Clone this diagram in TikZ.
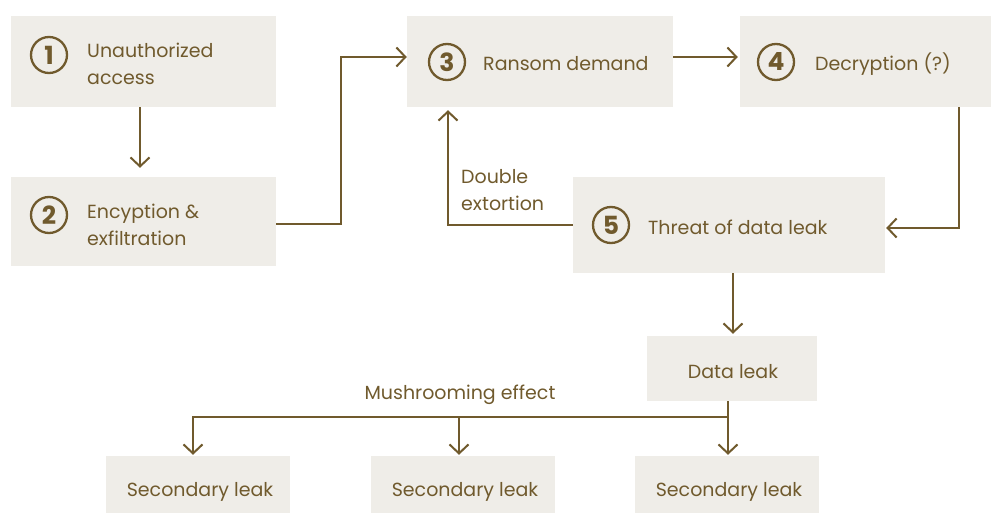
\documentclass[tikz,border=0pt]{standalone}
\usepackage{fontspec}
\setmainfont{Poppins}
\usetikzlibrary{arrows.meta,calc}
\definecolor{brn}{RGB}{112,90,45}
\definecolor{boxfill}{RGB}{239,237,232}
\tikzset{
  box/.style={fill=boxfill, draw=none, inner sep=0pt},
  num/.style={circle, draw=brn, line width=2.3pt, minimum size=36pt, inner sep=0pt, text=brn, font=\fontsize{25}{25}\selectfont\bfseries},
  lbl/.style={text=brn, font=\fontsize{19}{26.5}\selectfont, align=left, anchor=west, inner sep=0pt},
  clbl/.style={text=brn, font=\fontsize{19}{26.5}\selectfont, align=center, inner sep=0pt},
  conn/.style={draw=brn, line width=2pt},
  arr/.style={conn, -{Straight Barb[length=9pt,width=19pt,line width=2pt]}}
}
\begin{document}
\begin{tikzpicture}[x=1pt,y=-1pt]
\useasboundingbox (0,0) rectangle (991,513);
% boxes
\node[box, minimum width=265pt, minimum height=91pt] (b1) at (143.5,61.5) {};
\node[box, minimum width=265pt, minimum height=89pt] (b2) at (143.5,221.5) {};
\node[box, minimum width=266pt, minimum height=91pt] (b3) at (540,61.5) {};
\node[box, minimum width=266pt, minimum height=91pt] (b4) at (873,61.5) {};
\node[box, minimum width=312pt, minimum height=96pt] (b5) at (729,225) {};
\node[box, minimum width=170pt, minimum height=65pt] (dl) at (732,368.5) {};
\node[box, minimum width=184pt, minimum height=64pt] (sa) at (198,488) {};
\node[box, minimum width=184pt, minimum height=64pt] (sb) at (463,488) {};
\node[box, minimum width=184pt, minimum height=64pt] (sc) at (727,488) {};
% numbers
\node[num] (n1) at (49,55) {1};
\node[num] (n2) at (49,215) {2};
\node[num] (n3) at (447,62) {3};
\node[num] (n4) at (776,62) {4};
\node[num] (n5) at (611,225) {5};
% texts
\node[lbl] (t1) at (87,64) {Unauthorized\\access};
\node[lbl] (t2) at (87,225) {Encyption \&\\exfiltration};
\node[lbl] (t3) at (483,64) {Ransom demand};
\node[lbl] (t4) at (815,64) {Decryption (?)};
\node[lbl] (t5) at (648,227) {Threat of data leak};
\node[clbl] (tdl) at (733,372) {Data leak};
\node[clbl] (tsa) at (200,492) {Secondary leak};
\node[clbl] (tsb) at (465,492) {Secondary leak};
\node[clbl] (tsc) at (729,492) {Secondary leak};
\node[lbl] (tde) at (461,190) {Double\\extortion};
\node[clbl] (tme) at (460,395) {Mushrooming effect};
% connectors
\draw[arr, shorten >=9pt] ([xshift=-3.5pt]b1.south) -- ([xshift=-3.5pt]b2.north);
\draw[arr] ([yshift=-2.5pt]b2.east) -- ++(65,0) |- ([yshift=4.5pt]b3.west);
\draw[arr, shorten >=2pt] ([yshift=4.5pt]b3.east) -- ([yshift=4.5pt]b4.west);
\draw[arr, shorten >=1pt] ([xshift=86pt]b4.south) |- ([yshift=-3pt]b5.east);
\draw[arr, shorten >=3pt] (b5.west) -| ([xshift=-92pt]b3.south);
\draw[arr, shorten >=2pt] ([xshift=4pt]b5.south) -- ([xshift=1pt]dl.north);
\coordinate (br) at (728,417);
\coordinate (ja) at (193,417);
\coordinate (jb) at (459,417);
\draw[conn] (dl.south -| br) -- (br);
\draw[arr, shorten >=1pt] (br) -- (br |- sc.north);
\draw[arr, shorten >=1pt] (br) -- (ja) -- (ja |- sa.north);
\draw[arr, shorten >=1pt] (jb) -- (jb |- sb.north);
\end{tikzpicture}
\end{document}
